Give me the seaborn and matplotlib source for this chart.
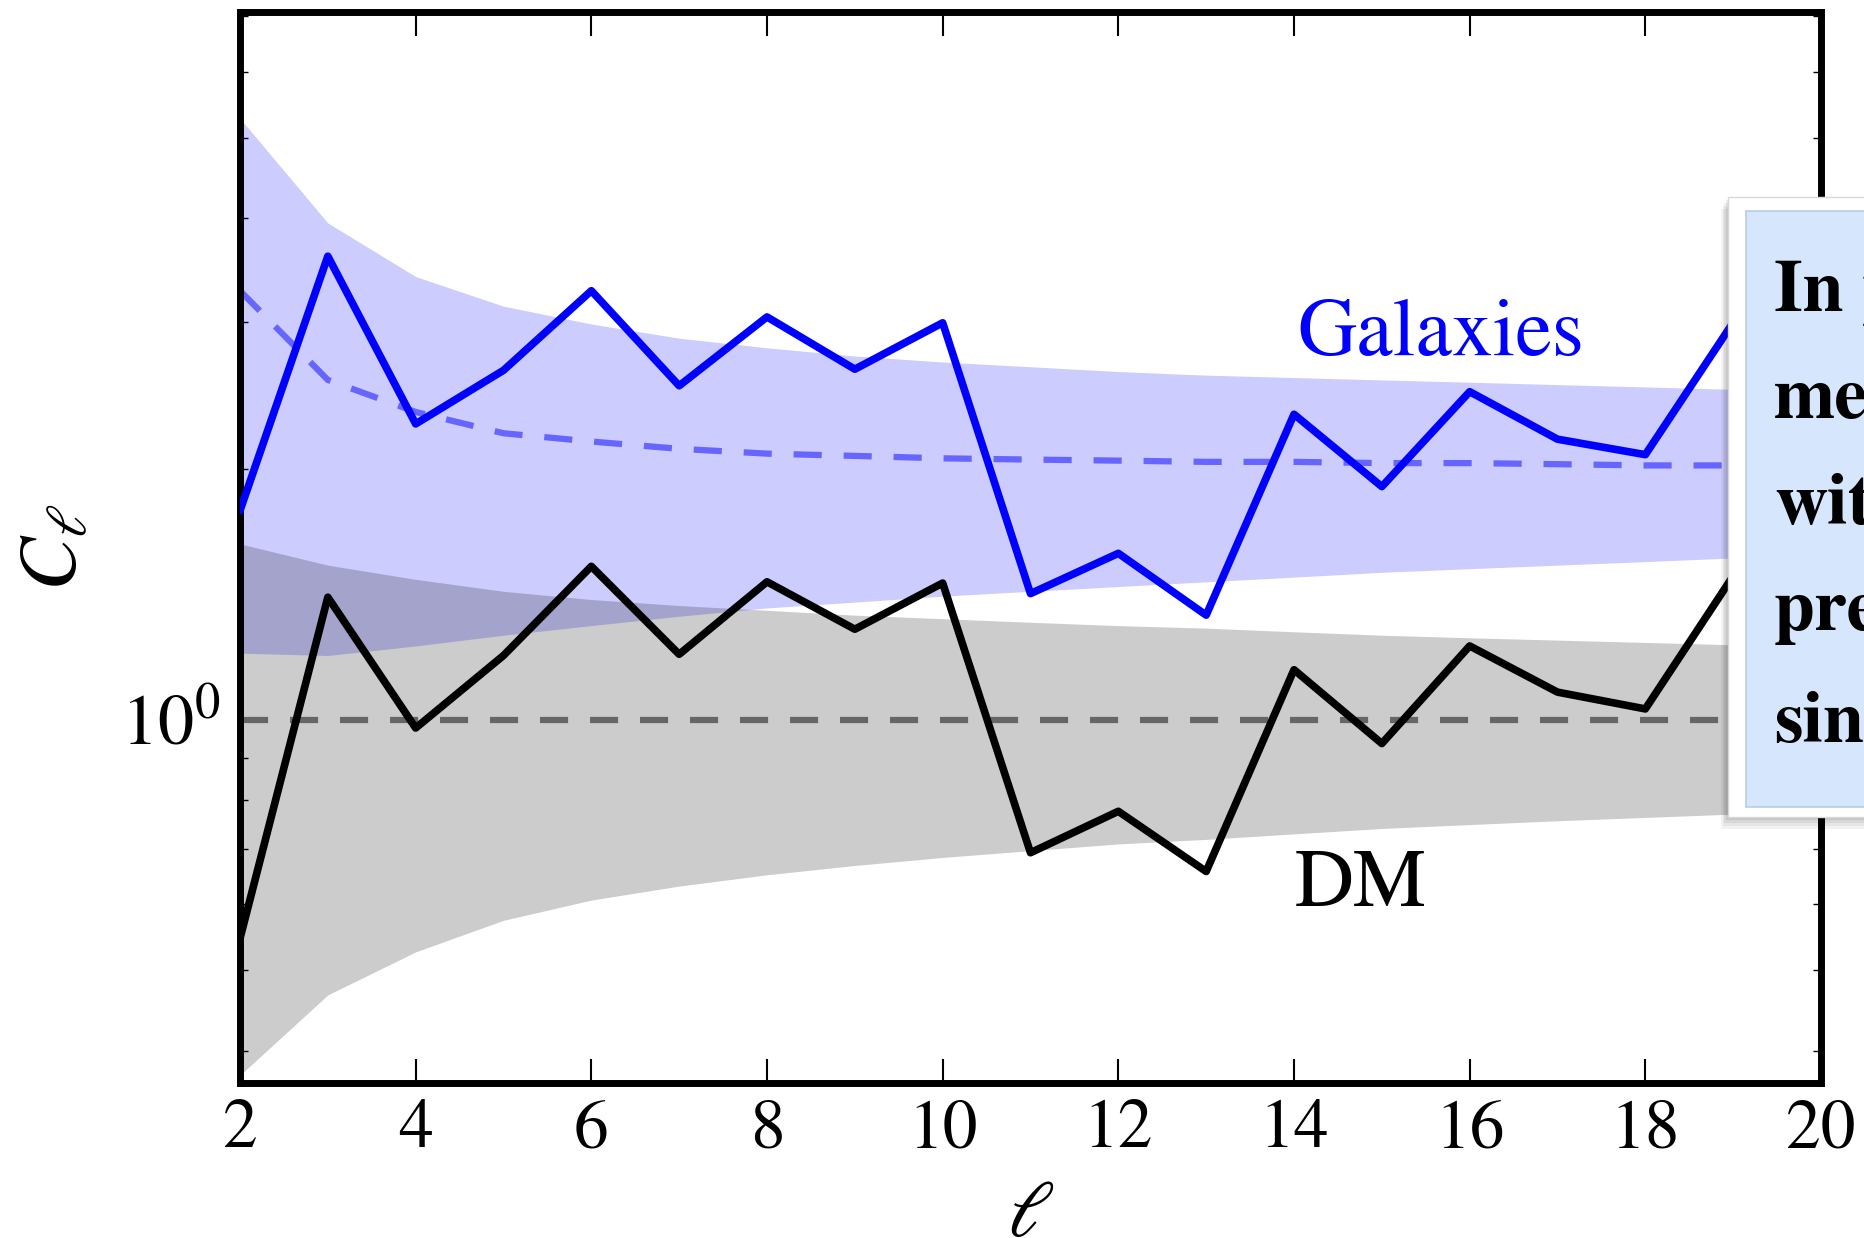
import numpy as np
import pandas as pd
import seaborn as sns
import matplotlib
matplotlib.use("Agg")
import matplotlib.pyplot as plt
from matplotlib.patches import Rectangle
from matplotlib.ticker import LogLocator, NullFormatter

# ---------------- data ----------------
ell = [2, 3, 4, 5, 6, 7, 8, 9, 10, 11, 12, 13, 14, 15, 16, 17, 18, 19, 20]

galaxies = [1.783, 3.603, 2.266, 2.628, 3.275, 2.518, 3.046, 2.636, 2.997, 1.417,
            1.584, 1.335, 2.327, 1.905, 2.477, 2.172, 2.081, 3.000, 2.400]
galaxies_mean = [3.275, 2.559, 2.342, 2.208, 2.158, 2.115, 2.087, 2.074, 2.060, 2.053,
                 2.047, 2.040, 2.040, 2.033, 2.033, 2.027, 2.020, 2.020, 2.014]
galaxies_upper = [5.275, 3.950, 3.406, 3.138, 2.987, 2.872, 2.797, 2.734, 2.689, 2.654,
                  2.619, 2.593, 2.576, 2.559, 2.543, 2.526, 2.510, 2.493, 2.477]
galaxies_lower = [1.202, 1.194, 1.226, 1.263, 1.297, 1.331, 1.362, 1.384, 1.407, 1.426,
                  1.445, 1.464, 1.483, 1.503, 1.518, 1.533, 1.548, 1.564, 1.574]

dm = [0.546, 1.403, 0.977, 1.194, 1.528, 1.198, 1.464, 1.284, 1.459, 0.692,
      0.776, 0.657, 1.148, 0.936, 1.226, 1.079, 1.030, 1.488, 1.150]
dm_upper = [1.626, 1.533, 1.474, 1.426, 1.394, 1.371, 1.353, 1.335, 1.322, 1.309,
            1.297, 1.288, 1.275, 1.263, 1.254, 1.246, 1.238, 1.230, 1.222]
dm_lower = [0.374, 0.467, 0.526, 0.574, 0.607, 0.631, 0.651, 0.668, 0.683, 0.696,
            0.709, 0.718, 0.729, 0.740, 0.748, 0.756, 0.763, 0.770, 0.776]
dm_reference = 1.0

xticks = [2, 4, 6, 8, 10, 12, 14, 16, 18, 20]
callout_lines = ["In p", "me", "wit", "pre", "sin"]

df = pd.DataFrame({
    "ell": ell,
    "galaxies": galaxies,
    "galaxies_mean": galaxies_mean,
    "dm": dm,
})

# ---------------- style ----------------
sns.set_theme(style="white")
plt.rcParams["font.family"] = ["STIXGeneral", "DejaVu Serif"]
plt.rcParams["mathtext.fontset"] = "stix"
for key in ["text.color", "axes.labelcolor", "xtick.color", "ytick.color", "axes.edgecolor"]:
    plt.rcParams[key] = "black"

W, H = 1864, 1238
fig = plt.figure(figsize=(W / 100, H / 100), dpi=100, facecolor="white")
ax = fig.add_axes([240 / W, 1 - 1083 / H, (1821 - 240) / W, (1083 - 12) / H])

# bands
ax.fill_between(ell, galaxies_lower, galaxies_upper, color="blue", alpha=0.2, lw=0, zorder=1)
ax.fill_between(ell, dm_lower, dm_upper, color="black", alpha=0.2, lw=0, zorder=1.1)

# dashed means
dash = (0, (4.5, 3.5))
sns.lineplot(data=df, x="ell", y="galaxies_mean", ax=ax, color="#6666ff", lw=4.5,
             linestyle=dash, zorder=2)
ax.axhline(dm_reference, color="#666666", lw=4.5, linestyle=dash, zorder=2)

# measured spectra
sns.lineplot(data=df, x="ell", y="galaxies", ax=ax, color="blue", lw=5.5, zorder=3)
sns.lineplot(data=df, x="ell", y="dm", ax=ax, color="black", lw=5.5, zorder=3)

ax.set_yscale("log")
ax.set_xlim(2, 20)
ax.set_ylim(0.366, 7.08)
ax.grid(False)

ax.set_xticks(xticks)
ax.set_xticklabels([str(t) for t in xticks])
ax.yaxis.set_major_locator(LogLocator(base=10))
ax.yaxis.set_minor_locator(LogLocator(base=10, subs=(2, 3, 4, 5, 6, 7, 8, 9)))
ax.yaxis.set_minor_formatter(NullFormatter())

ax.tick_params(axis="x", which="major", direction="in", length=17, width=1.5,
               top=True, bottom=True, labelsize=50, pad=12)
ax.tick_params(axis="y", which="major", direction="in", length=12, width=1.5,
               left=True, right=True, labelsize=52, pad=14)
ax.tick_params(axis="y", which="minor", direction="in", length=6, width=1.0,
               left=True, right=True)

for s in ax.spines.values():
    s.set_linewidth(5)
    s.set_color("black")
    s.set_visible(True)

ax.set_xlabel(r"$\ell$", fontsize=57)
ax.set_ylabel(r"$C_\ell$", fontsize=58)
ax.xaxis.set_label_coords(0.5, -0.093)
ax.yaxis.set_label_coords(-0.093, 0.5)

ax.text((1297 - 240) / 1581, (1083 - 355) / 1071, "Galaxies", transform=ax.transAxes,
        color="blue", fontsize=59, ha="left", va="baseline", zorder=5)
ax.text((1295 - 240) / 1581, (1083 - 906) / 1071, "DM", transform=ax.transAxes,
        color="black", fontsize=59, ha="left", va="baseline", zorder=5)

# ---------------- callout box (cut off at the right edge) ----------------
bx0, btop, bbot = 1728, 197, 817
for i, a in enumerate([0.05, 0.05, 0.06, 0.07]):
    off = (4 - i) * 3
    fig.add_artist(Rectangle(((bx0 - off * 0.6) / W, 1 - (bbot + off) / H),
                             0.2, (bbot - btop) / H, transform=fig.transFigure,
                             facecolor="black", alpha=a, lw=0, zorder=9))
fig.add_artist(Rectangle((bx0 / W, 1 - bbot / H), 0.2, (bbot - btop) / H,
                         transform=fig.transFigure, facecolor="white",
                         edgecolor="#d8d8d8", lw=1, zorder=10))
ix0, itop, ibot = 1746, 211, 807
fig.add_artist(Rectangle((ix0 / W, 1 - ibot / H), 0.2, (ibot - itop) / H,
                         transform=fig.transFigure, facecolor="#d6e6fc",
                         edgecolor="#b8cce8", lw=1.2, zorder=11))
baselines = [311, 418, 524, 630, 742]
for line, b in zip(callout_lines, baselines):
    fig.text(1774 / W, 1 - b / H, line, fontsize=53, fontweight="bold",
             color="black", ha="left", va="baseline", zorder=12)

fig.savefig("out.png", dpi=100, facecolor="white")
